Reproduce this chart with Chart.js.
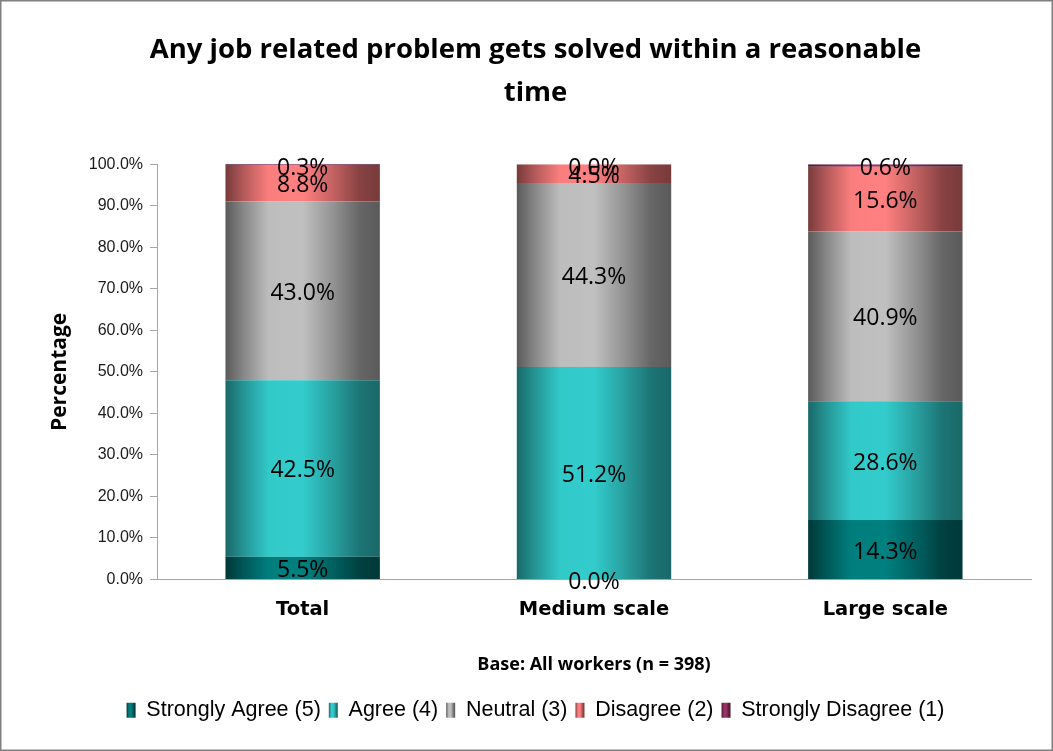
<!DOCTYPE html>
<html>
<head>
<meta charset="utf-8">
<title>Any job related problem gets solved within a reasonable time</title>
<script src="https://cdn.jsdelivr.net/npm/chart.js@4.4.1/dist/chart.umd.min.js"></script>
<style>
  html, body { margin: 0; padding: 0; background: #fff; }
  #wrap { width: 1053px; height: 751px; position: relative; }
</style>
</head>
<body>
<div id="wrap"><canvas id="chart" width="1053" height="751"></canvas></div>
<script>
// Survey responses by enterprise size (percent of workers)
const categories = ['Total', 'Medium scale', 'Large scale'];
const seriesNames = ['Strongly Agree (5)', 'Agree (4)', 'Neutral (3)', 'Disagree (2)', 'Strongly Disagree (1)'];
const stronglyAgree = [5.5, 0.0, 14.3];
const agree = [42.5, 51.2, 28.6];
const neutral = [43.0, 44.3, 40.9];
const disagree = [8.8, 4.5, 15.6];
const stronglyDisagree = [0.3, 0.0, 0.6];
const yTickValues = [0, 10, 20, 30, 40, 50, 60, 70, 80, 90, 100];

const titleLines = ['Any job related problem gets solved within a reasonable', 'time'];
const xAxisTitle = 'Base: All workers (n = 398)';
const yAxisTitle = 'Percentage';

// centre colour and edge colour of each series' metallic fill
const palette = [
  { base: [0, 128, 128],   dark: [0, 56, 56] },
  { base: [51, 204, 204],  dark: [26, 104, 104] },
  { base: [192, 192, 192], dark: [90, 90, 90] },
  { base: [255, 128, 128], dark: [120, 58, 58] },
  { base: [153, 51, 102],  dark: [74, 22, 48] }
];
const BAR_FRACTION = 0.53;

function mix(p, t) {
  const c = p.dark.map((d, i) => Math.round(d + (p.base[i] - d) * t));
  return 'rgb(' + c.join(',') + ')';
}
function fillGradient(g2d, x0, x1, p) {
  const g = g2d.createLinearGradient(x0, 0, x1, 0);
  g.addColorStop(0, mix(p, 0));
  g.addColorStop(0.12, mix(p, 0.45));
  g.addColorStop(0.28, mix(p, 0.97));
  g.addColorStop(0.5, mix(p, 1));
  g.addColorStop(0.7, mix(p, 0.55));
  g.addColorStop(0.87, mix(p, 0.12));
  g.addColorStop(1, mix(p, 0));
  return g;
}
function barFill(ctx, p) {
  const chart = ctx.chart;
  if (!chart.chartArea || ctx.type !== 'data') return mix(p, 1);
  const xs = chart.scales.x;
  const cx = xs.getPixelForValue(ctx.dataIndex);
  const w = (xs.width / categories.length) * BAR_FRACTION;
  return fillGradient(chart.ctx, cx - w / 2, cx + w / 2, p);
}

const seriesValues = [stronglyAgree, agree, neutral, disagree, stronglyDisagree];
const datasets = seriesValues.map((vals, i) => ({
  label: seriesNames[i],
  data: vals,
  backgroundColor: (ctx) => barFill(ctx, palette[i]),
  borderWidth: 0,
  barPercentage: BAR_FRACTION,
  categoryPercentage: 1
}));

// white page with a thin frame
const framePlugin = {
  id: 'frame',
  beforeDraw(chart) {
    const c = chart.ctx;
    c.save();
    c.fillStyle = '#fff';
    c.fillRect(0, 0, chart.width, chart.height);
    c.strokeStyle = '#808080';
    c.lineWidth = 1.5;
    c.strokeRect(0.75, 0.75, chart.width - 1.5, chart.height - 1.5);
    c.restore();
  }
};

// value labels centred in each segment
const valueLabelPlugin = {
  id: 'valueLabels',
  afterDatasetsDraw(chart) {
    const c = chart.ctx;
    const top = chart.chartArea.top;
    c.save();
    c.font = '23px "Open Sans"';
    c.fillStyle = '#000';
    c.textAlign = 'center';
    c.textBaseline = 'middle';
    chart.data.datasets.forEach((ds, di) => {
      const meta = chart.getDatasetMeta(di);
      meta.data.forEach((el, i) => {
        const v = ds.data[i];
        let y = (el.y + el.base) / 2 + 2.5;
        if (y < top + 4) y = top + 4;
        c.fillText(v.toFixed(1) + '%', el.x, y);
      });
    });
    c.restore();
  }
};

// legend swatches get the same metallic fill as the bars
const legendSwatchPlugin = {
  id: 'legendSwatch',
  afterDraw(chart) {
    const lg = chart.legend;
    if (!lg || !lg.legendHitBoxes) return;
    const o = lg.options.labels;
    const fontSize = o.font.size;
    const c = chart.ctx;
    c.save();
    lg.legendHitBoxes.forEach((hb, i) => {
      const y = hb.top + Math.max((fontSize - o.boxHeight) / 2, 0);
      c.fillStyle = '#fff';
      c.fillRect(hb.left - 1, y - 1, o.boxWidth + 2, o.boxHeight + 2);
      c.fillStyle = fillGradient(c, hb.left, hb.left + o.boxWidth, palette[i]);
      c.fillRect(hb.left, y, o.boxWidth, o.boxHeight);
    });
    c.restore();
  }
};

new Chart(document.getElementById('chart'), {
  type: 'bar',
  data: { labels: categories, datasets },
  options: {
    responsive: false,
    animation: false,
    events: [],
    layout: { padding: { top: 29, left: 40, right: 22, bottom: 20 } },
    scales: {
      x: {
        stacked: true,
        grid: { display: false, drawTicks: false },
        border: { display: true, color: '#a6a6a6', width: 1 },
        ticks: {
          padding: 19,
          color: '#000',
          font: { family: '"DejaVu Sans"', weight: 'bold', size: 19.5 }
        },
        title: {
          display: true,
          text: xAxisTitle,
          color: '#000',
          font: { family: '"Open Sans"', weight: 'bold', size: 18 },
          padding: { top: 0, bottom: 16 }
        },
        afterFit(scale) { scale.height = 112; }
      },
      y: {
        stacked: true,
        min: 0,
        max: 100,
        afterBuildTicks(scale) { scale.ticks = yTickValues.map(v => ({ value: v })); },
        grid: { drawOnChartArea: false, drawTicks: true, tickLength: 7, color: '#a6a6a6' },
        border: { display: true, color: '#a6a6a6', width: 1 },
        ticks: {
          padding: 7,
          color: '#1a1a1a',
          font: { family: '"Liberation Sans"', size: 16 },
          callback: (v) => Number(v).toFixed(1) + '%'
        },
        title: {
          display: true,
          text: yAxisTitle,
          color: '#000',
          font: { family: '"Open Sans"', weight: 'bold', size: 21 },
          padding: { top: 7, bottom: 0 }
        },
        afterFit(scale) { scale.width = 117; }
      }
    },
    plugins: {
      title: {
        display: true,
        text: titleLines,
        color: '#000',
        font: { family: '"Open Sans"', weight: 'bold', size: 27.5, lineHeight: 1.55 },
        padding: { top: 0, bottom: 50 }
      },
      legend: {
        position: 'bottom',
        labels: {
          boxWidth: 9,
          boxHeight: 15,
          padding: 8,
          color: '#000',
          font: { family: '"Liberation Sans"', size: 21.5 },
          generateLabels(chart) {
            return chart.data.datasets.map((ds, i) => ({
              text: ds.label,
              fillStyle: mix(palette[i], 1),
              strokeStyle: 'rgba(0,0,0,0)',
              lineWidth: 0,
              hidden: false,
              datasetIndex: i
            }));
          }
        }
      },
      tooltip: { enabled: false }
    }
  },
  plugins: [framePlugin, valueLabelPlugin, legendSwatchPlugin]
});
</script>
</body>
</html>
